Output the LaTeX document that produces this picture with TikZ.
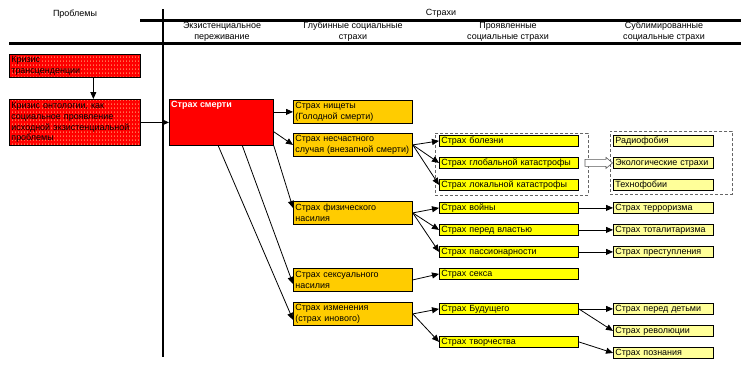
\documentclass[tikz,border=0pt]{standalone}
\usepackage{fontspec}
\setmainfont{Liberation Sans}
\usetikzlibrary{arrows.meta,patterns,calc,shadows}

\definecolor{ctwo}{RGB}{255,204,0}
\definecolor{cthree}{RGB}{255,255,0}
\definecolor{cfour}{RGB}{255,255,153}
\definecolor{dotc}{RGB}{255,175,120}

\pgfdeclarepatternformonly{ticks}{\pgfpointorigin}{\pgfpoint{3bp}{3.5bp}}{\pgfpoint{3bp}{3.5bp}}%
{\pgfpathrectangle{\pgfpointorigin}{\pgfpoint{0.9bp}{1.8bp}}\pgfusepath{fill}}

\tikzset{
 every node/.style={font=\fontsize{9}{11}\selectfont},
 bx/.style={draw=black, line width=0.8bp, anchor=north west, inner xsep=2bp, inner ysep=0bp, align=left,
   drop shadow={shadow xshift=0.9bp, shadow yshift=-0.9bp, opacity=1, fill=black}},
 colb/.style={bx, fill=ctwo, text width=115bp, minimum height=23bp},
 colc/.style={bx, fill=cthree, text width=135bp, minimum height=11bp},
 cold/.style={bx, fill=cfour, text width=96bp, minimum height=11bp},
 probbox/.style={bx, preaction={fill=red}, pattern=ticks, pattern color=dotc, text width=127bp},
 hdr/.style={align=center, inner sep=0pt},
 arr/.style={-{Triangle[length=7bp,width=6bp]}, line width=0.8bp},
 dashbox/.style={draw=gray!80!black, dashed, dash pattern=on 3bp off 2bp, line width=0.8bp, anchor=north west, inner sep=0pt},
 hollow/.style={draw=gray!70!black, fill=white, line width=0.6bp, line join=miter},
}

\begin{document}
\begin{tikzpicture}[x=1bp,y=-1bp]
\useasboundingbox (0,0) rectangle (748,372);

% frame lines
\draw[line width=2bp] (163,9) -- (163,357);
\draw[line width=3bp] (140,20.5) -- (741,20.5);
\draw[line width=3bp] (9,43.5) -- (741,43.5);

% headers
\node[hdr] (hprob) at (75,14) {Проблемы};
\node[hdr] (hstr) at (441,13) {Страхи};
\node[hdr] (hc1) at (222,31.5) {Экзистенциальное\\переживание};
\node[hdr] (hc2) at (353,31.5) {Глубинные социальные\\страхи};
\node[hdr] (hc3) at (508,31.5) {Проявленные\\социальные страхи};
\node[hdr] (hc4) at (664,31.5) {Сублимированные\\социальные страхи};

% dashed groups
\node[dashbox, minimum width=153bp, minimum height=62bp] (g1) at (435,133) {};
\node[dashbox, minimum width=122bp, minimum height=63bp] (g2) at (610,131) {};

% problems
\node[probbox, minimum height=23bp] (p1) at (9,54) {Кризис\\трансценденции};
\node[probbox, minimum height=46bp] (p2) at (9,99) {Кризис онтологии, как\\социальное проявление\\исходной экзистенциальной\\проблемы};

% death
\node[bx, fill=red, minimum width=104bp, minimum height=46bp,
  label={[anchor=north west, text=white, inner sep=2bp, font={\fontsize{9}{11}\selectfont\bfseries}]north west:Страх смерти}] (death) at (169,99) {};

% column 2
\node[colb] (nish) at (293,100) {Страх нищеты\\(Голодной смерти)};
\node[colb] (nes) at (293,133) {Страх несчастного\\случая (внезапной смерти)};
\node[colb] (fiz) at (293,201) {Страх физического\\насилия};
\node[colb] (sexn) at (293,268) {Страх сексуального\\насилия};
\node[colb] (izm) at (293,302) {Страх изменения\\(страх инового)};

% column 3
\node[colc] (bol) at (439,135) {Страх болезни};
\node[colc] (glob) at (439,157) {Страх глобальной катастрофы};
\node[colc] (lok) at (439,179) {Страх локальной катастрофы};
\node[colc] (voin) at (439,202) {Страх войны};
\node[colc] (vlast) at (439,224) {Страх перед властью};
\node[colc] (pass) at (439,246) {Страх пассионарности};
\node[colc] (seks) at (439,268) {Страх секса};
\node[colc] (bud) at (439,303) {Страх Будущего};
\node[colc] (tvor) at (439,336) {Страх творчества};

% column 4
\node[cold] (radio) at (613,135) {Радиофобия};
\node[cold] (eko) at (613,157) {Экологические страхи};
\node[cold] (tehno) at (613,179) {Технофобии};
\node[cold] (terr) at (613,202) {Страх терроризма};
\node[cold] (total) at (613,224) {Страх тоталитаризма};
\node[cold] (prest) at (613,246) {Страх преступления};
\node[cold] (deti) at (613,303) {Страх перед детьми};
\node[cold] (revol) at (613,325) {Страх революции};
\node[cold] (pozn) at (613,347) {Страх познания};

% hollow block arrow between the groups
\draw[hollow, shift={(eko.west)}] (-28,-3.5) -- (-7,-3.5) -- (-7,-5.5) -- (-0.5,0) -- (-7,5.5) -- (-7,3.5) -- (-28,3.5) -- cycle;

% connectors
\draw[arr] ($(p1.south west)!0.64!(p1.south east)$) coordinate (a1) -- (a1 |- p2.north);
\draw[arr] (p2.east) -- (death.west);
\draw[arr] (nish.west -| death.east) -- (nish.west);
\draw[arr] ($(death.north east)!0.7!(death.south east)$) -- (nes.west);
\draw[arr] (death.south east) -- ([yshift=5]fiz.west);
\draw[arr] ($(death.south west)!0.7!(death.south east)$) -- ([yshift=-4]sexn.west);
\draw[arr] ($(death.south west)!0.47!(death.south east)$) -- ([yshift=-6]izm.west);

\draw[arr] (nes.east) -- (bol.west);
\draw[arr] (nes.east) -- (glob.west);
\draw[arr] (nes.east) -- (lok.west);
\draw[arr] (fiz.east) -- (voin.west);
\draw[arr] (fiz.east) -- (vlast.west);
\draw[arr] (fiz.east) -- (pass.west);
\draw[arr] (sexn.east) -- (seks.west);
\draw[arr] (izm.east) -- (bud.west);
\draw[arr] (izm.east) -- (tvor.west);

\draw[arr] (voin.east) -- (terr.west);
\draw[arr] (vlast.east) -- (total.west);
\draw[arr] (pass.east) -- (prest.west);
\draw[arr] (bud.east) -- (deti.west);
\draw[arr] (bud.east) -- (revol.west);
\draw[arr] (tvor.east) -- (pozn.west);
\end{tikzpicture}
\end{document}
